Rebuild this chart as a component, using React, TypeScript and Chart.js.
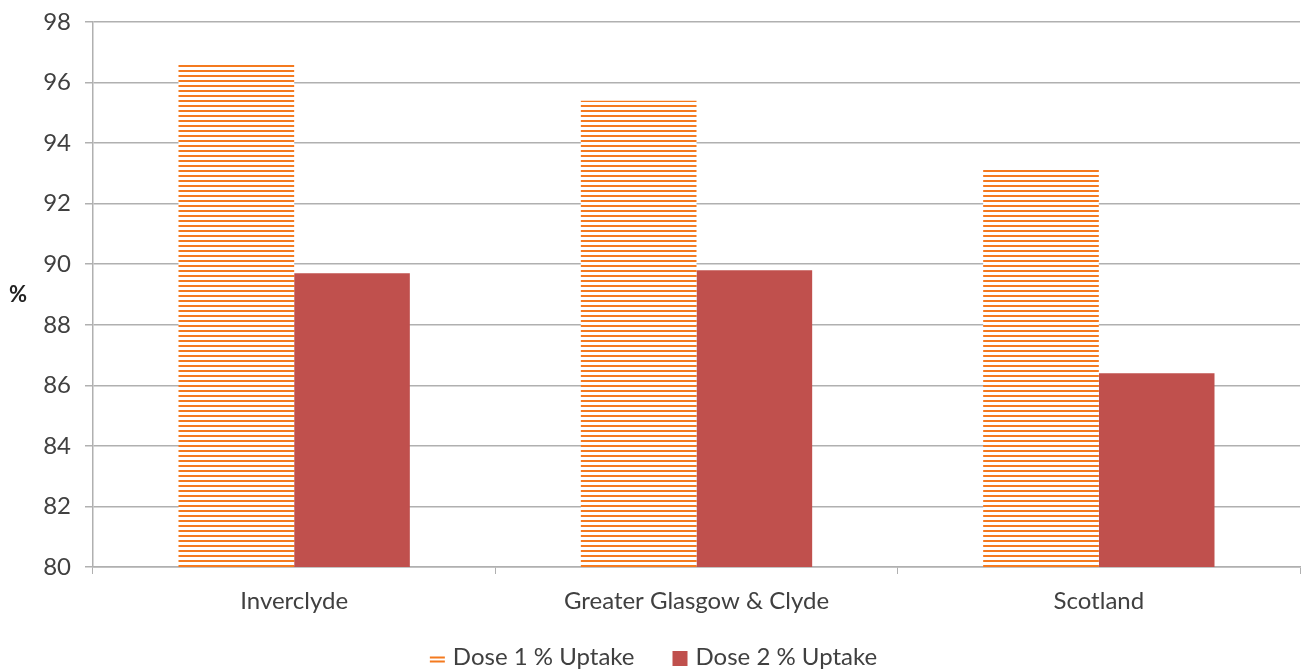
import React, { useEffect, useRef } from "react";
import { Chart, registerables } from "chart.js";

Chart.register(...registerables);

const categories = ["Inverclyde", "Greater Glasgow & Clyde", "Scotland"];
const dose1Uptake = [96.6, 95.4, 93.2];
const dose2Uptake = [89.7, 89.8, 86.4];
const yTicks = [80, 82, 84, 86, 88, 90, 92, 94, 96, 98];

const ORANGE = "#F47A1F";
const RED = "#C0504D";
const GRID = "#B0B0B0";
const TEXT = "#404040";
const FONT = "Lato, 'Open Sans', sans-serif";
const FONT_SIZE = 24;

// Horizontal stripe fill used for the Dose 1 bars
function makeStripePattern(): CanvasPattern | string {
  const c = document.createElement("canvas");
  c.width = 8;
  c.height = 5;
  const ctx = c.getContext("2d");
  if (!ctx) return ORANGE;
  ctx.fillStyle = "#ffffff";
  ctx.fillRect(0, 0, 8, 5);
  ctx.fillStyle = ORANGE;
  ctx.fillRect(0, 0, 8, 2);
  const p = ctx.createPattern(c, "repeat");
  return p || ORANGE;
}

// Horizontal "%" label left of the value axis
const percentLabel = {
  id: "percentLabel",
  afterDraw(chart: any) {
    const { ctx, chartArea } = chart;
    ctx.save();
    ctx.font = `bold 22px ${FONT}`;
    ctx.fillStyle = "#222";
    ctx.textAlign = "center";
    ctx.textBaseline = "middle";
    ctx.fillText("%", 18, (chartArea.top + chartArea.bottom) / 2);
    ctx.restore();
  },
};

// Bottom legend: striped swatch for Dose 1, solid square for Dose 2
const bottomLegend = {
  id: "bottomLegend",
  afterDraw(chart: any) {
    const { ctx, width, height } = chart;
    const sets = chart.data.datasets;
    const box = 15;
    const gap = 8;
    const itemGap = 38;
    ctx.save();
    ctx.font = `${FONT_SIZE}px ${FONT}`;
    ctx.textBaseline = "middle";
    ctx.textAlign = "left";
    const widths = sets.map((d: any) => box + gap + ctx.measureText(d.label).width);
    const total = widths.reduce((a: number, b: number) => a + b, 0) + itemGap * (sets.length - 1);
    let x = width / 2 + 2 - total / 2;
    const cy = height - 13;
    sets.forEach((d: any, i: number) => {
      if (i === 0) {
        ctx.fillStyle = ORANGE;
        ctx.fillRect(x, cy - 0.5, box, 2);
        ctx.fillRect(x, cy + 3.5, box, 2);
      } else {
        ctx.fillStyle = d.backgroundColor;
        ctx.fillRect(x, cy - 6, box, box);
      }
      ctx.fillStyle = TEXT;
      ctx.fillText(d.label, x + box + gap, cy);
      x += widths[i] + itemGap;
    });
    ctx.restore();
  },
};

export default function App() {
  const canvasRef = useRef<HTMLCanvasElement | null>(null);

  useEffect(() => {
    if (!canvasRef.current) return;
    const stripes = makeStripePattern();
    const chart = new Chart(canvasRef.current, {
      type: "bar",
      data: {
        labels: categories,
        datasets: [
          {
            label: "Dose 1 % Uptake",
            data: dose1Uptake,
            backgroundColor: stripes as any,
            borderWidth: 0,
          },
          {
            label: "Dose 2 % Uptake",
            data: dose2Uptake,
            backgroundColor: RED,
            borderWidth: 0,
          },
        ],
      },
      options: {
        animation: false,
        responsive: true,
        maintainAspectRatio: false,
        layout: { padding: { left: 0, right: 3, top: 22, bottom: 53 } },
        datasets: {
          bar: { barPercentage: 1, categoryPercentage: 0.575 },
        },
        scales: {
          x: {
            offset: true,
            afterFit(scale: any) {
              scale.height = 50;
              scale.paddingLeft = 0;
              scale.paddingRight = 0;
            },
            grid: {
              offset: true,
              drawOnChartArea: false,
              drawTicks: true,
              tickLength: 7,
              color: GRID,
            },
            border: { color: GRID, width: 1.5 },
            ticks: {
              color: TEXT,
              font: { family: FONT, size: FONT_SIZE },
              padding: 13,
            },
          },
          y: {
            min: 80,
            max: 98,
            afterBuildTicks(scale: any) {
              scale.ticks = yTicks.map((v) => ({ value: v }));
            },
            afterFit(scale: any) {
              scale.width = 93;
              scale.paddingTop = 0;
              scale.paddingBottom = 0;
            },
            grid: {
              color: GRID,
              lineWidth: 1.5,
              tickLength: 8,
            },
            border: { color: GRID, width: 1.5 },
            ticks: {
              color: TEXT,
              font: { family: FONT, size: FONT_SIZE },
              padding: 14,
            },
          },
        },
        plugins: {
          legend: { display: false },
          tooltip: { enabled: false },
        },
      },
      plugins: [percentLabel, bottomLegend],
    });
    return () => chart.destroy();
  }, []);

  return (
    <div style={{ position: "absolute", left: 0, top: 0, width: 1303, height: 670, background: "#fff" }}>
      <canvas ref={canvasRef} />
    </div>
  );
}
